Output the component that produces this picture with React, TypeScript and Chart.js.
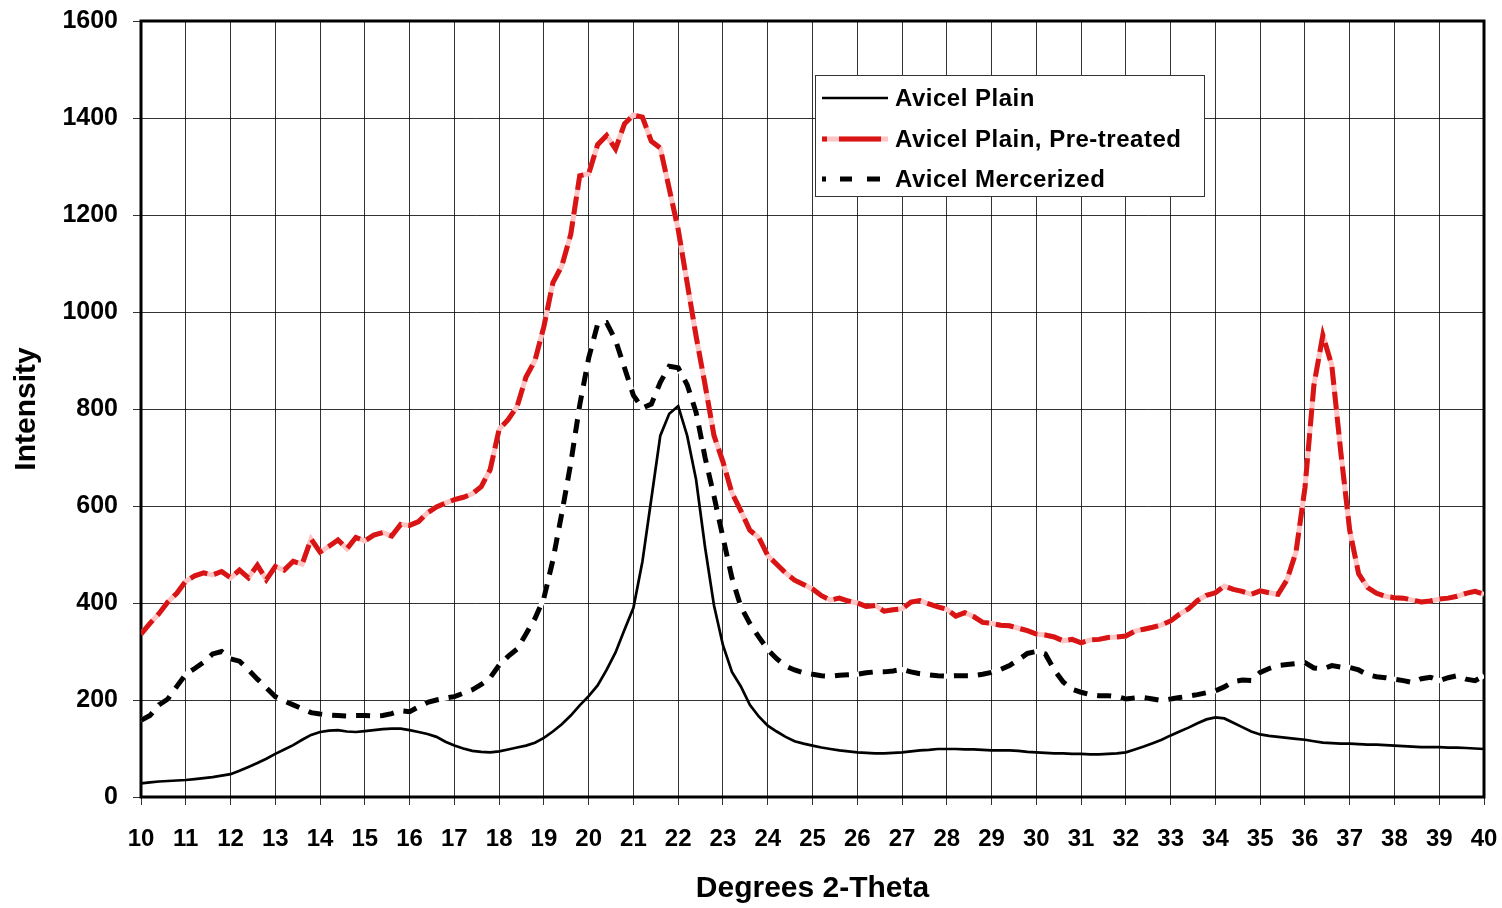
import React, { useEffect, useRef } from 'react';
import { Chart, registerables } from 'chart.js';

Chart.register(...registerables);

// Sampling grid (degrees 2-theta)
const degrees: number[] = [
  10.0, 10.2, 10.4, 10.6, 10.8, 11.0, 11.2, 11.4, 11.6, 11.8,
  12.0, 12.2, 12.4, 12.6, 12.8, 13.0, 13.2, 13.4, 13.6, 13.8,
  14.0, 14.2, 14.4, 14.6, 14.8, 15.0, 15.2, 15.4, 15.6, 15.8,
  16.0, 16.2, 16.4, 16.6, 16.8, 17.0, 17.2, 17.4, 17.6, 17.8,
  18.0, 18.2, 18.4, 18.6, 18.8, 19.0, 19.2, 19.4, 19.6, 19.8,
  20.0, 20.2, 20.4, 20.6, 20.8, 21.0, 21.2, 21.4, 21.6, 21.8,
  22.0, 22.2, 22.4, 22.6, 22.8, 23.0, 23.2, 23.4, 23.6, 23.8,
  24.0, 24.2, 24.4, 24.6, 24.8, 25.0, 25.2, 25.4, 25.6, 25.8,
  26.0, 26.2, 26.4, 26.6, 26.8, 27.0, 27.2, 27.4, 27.6, 27.8,
  28.0, 28.2, 28.4, 28.6, 28.8, 29.0, 29.2, 29.4, 29.6, 29.8,
  30.0, 30.2, 30.4, 30.6, 30.8, 31.0, 31.2, 31.4, 31.6, 31.8,
  32.0, 32.2, 32.4, 32.6, 32.8, 33.0, 33.2, 33.4, 33.6, 33.8,
  34.0, 34.2, 34.4, 34.6, 34.8, 35.0, 35.2, 35.4, 35.6, 35.8,
  36.0, 36.2, 36.4, 36.6, 36.8, 37.0, 37.2, 37.4, 37.6, 37.8,
  38.0, 38.2, 38.4, 38.6, 38.8, 39.0, 39.2, 39.4, 39.6, 39.8,
  40.0,
];

const avicelPlain: number[] = [
  28, 30, 32, 33, 34, 35, 37, 39, 41, 44,
  47, 54, 62, 70, 79, 89, 98, 107, 118, 128,
  134, 137, 138, 135, 134, 136, 138, 140, 141, 141,
  138, 134, 130, 124, 114, 106, 100, 95, 93, 92,
  94, 98, 102, 106, 112, 122, 135, 150, 168, 189,
  208, 230, 262, 298, 345, 390, 485, 615, 745, 790,
  806, 745, 654, 515, 395, 313, 258, 228, 190, 166,
  147, 135, 124, 115, 110, 106, 102, 99, 96, 94,
  92, 91, 90, 90, 91, 92, 94, 96, 97, 99,
  99, 99, 98, 98, 97, 96, 96, 96, 95, 93,
  92, 91, 90, 90, 89, 89, 88, 88, 89, 90,
  92, 98, 104, 111, 118, 127, 135, 143, 152, 160,
  164, 162, 153, 144, 135, 129, 126, 124, 122, 120,
  118, 115, 112, 111, 110, 110, 109, 108, 108, 107,
  106, 105, 104, 103, 103, 103, 102, 102, 101, 100,
  99,
];

const avicelPretreated: number[] = [
  336, 358, 378, 402, 420, 445, 456, 462, 458, 465,
  452, 468, 452, 478, 448, 475, 468, 486, 480, 532,
  505, 517, 530, 512, 535, 528, 540, 545, 538, 562,
  560, 568, 586, 598, 606, 613, 618, 625, 640, 675,
  758, 778, 805, 866, 900, 970, 1060, 1095, 1160, 1281,
  1285, 1345, 1364, 1336, 1388, 1406, 1402, 1352, 1338, 1254,
  1170, 1060, 950, 850, 745, 691, 627, 590, 550, 535,
  498, 480, 462, 447, 438, 429, 415, 406, 410, 404,
  400, 393, 395, 383, 386, 388, 402, 405, 398, 392,
  387, 373, 380, 372, 360, 358, 354, 353, 348, 343,
  336, 334, 330, 322, 325, 318, 324, 325, 329, 330,
  332, 342, 346, 350, 355, 363, 377, 388, 405, 416,
  421, 435, 428, 424, 418, 425, 421, 418, 448, 505,
  637, 849, 952, 890, 712, 550, 460, 432, 420, 414,
  411, 410, 406, 402, 404, 408, 410, 414, 420, 424,
  418,
];

const avicelMercerized: number[] = [
  158, 168, 190, 202, 228, 253, 265, 278, 295, 300,
  285, 280, 262, 243, 225, 207, 198, 190, 182, 174,
  171, 169, 168, 167, 168, 168, 167, 168, 172, 178,
  176, 186, 195, 200, 204, 207, 214, 221, 232, 246,
  272, 290, 305, 336, 368, 410, 488, 585, 688, 808,
  905, 975, 978, 942, 885, 828, 802, 810, 855, 888,
  885, 850, 793, 700, 620, 535, 452, 392, 358, 330,
  304, 285, 270, 262, 256, 253, 250, 249, 251, 252,
  253, 256, 258, 258, 260, 263, 258, 254, 252, 250,
  249, 250, 250, 250, 253, 257, 263, 271, 283, 296,
  300, 295, 262, 237, 222, 216, 211, 209, 209, 207,
  202, 204, 205, 202, 199, 202, 205, 208, 211, 215,
  219, 227, 238, 241, 240, 257, 265, 271, 273, 275,
  277, 266, 264, 271, 268, 267, 262, 252, 248, 246,
  243, 240, 236, 244, 247, 240, 246, 250, 243, 240,
  250,
];

const seriesNames: string[] = ['Avicel Plain', 'Avicel Plain, Pre-treated', 'Avicel Mercerized'];
const yTicks = { min: 0, max: 1600, step: 200 };
const xTicks = { min: 10, max: 40, step: 1 };

const FONT = "'Liberation Sans', Arial, Helvetica, sans-serif";
const RED = '#D91414';
const PINK = '#FFC4C4';

const toPoints = (ys: number[]) => ys.map((y, i) => ({ x: degrees[i], y }));

const framePlugin = {
  id: 'frame',
  beforeDatasetsDraw(chart: any) {
    const { ctx, chartArea: ca } = chart;
    ctx.save();
    ctx.strokeStyle = '#000';
    ctx.lineWidth = 3;
    ctx.strokeRect(ca.left, ca.top, ca.right - ca.left, ca.bottom - ca.top);
    ctx.restore();
  },
};

const legendPlugin = {
  id: 'boxLegend',
  afterDatasetsDraw(chart: any) {
    const { ctx, chartArea: ca } = chart;
    const left = ca.left + 674;
    const top = ca.top + 54;
    const w = 389;
    const h = 121;
    ctx.save();
    ctx.fillStyle = '#fff';
    ctx.fillRect(left, top, w, h);
    ctx.strokeStyle = '#333';
    ctx.lineWidth = 1;
    ctx.strokeRect(left + 0.5, top + 0.5, w, h);

    const rows = [top + 23, top + 64, top + 104];
    const sx0 = left + 7;
    const sx1 = left + 73;
    ctx.lineCap = 'butt';

    ctx.beginPath();
    ctx.strokeStyle = '#000';
    ctx.lineWidth = 2.5;
    ctx.moveTo(sx0, rows[0]);
    ctx.lineTo(sx1, rows[0]);
    ctx.stroke();

    ctx.beginPath();
    ctx.strokeStyle = PINK;
    ctx.lineWidth = 5;
    ctx.moveTo(sx0, rows[1]);
    ctx.lineTo(sx1, rows[1]);
    ctx.stroke();
    ctx.beginPath();
    ctx.setLineDash([5, 12, 42, 100]);
    ctx.strokeStyle = RED;
    ctx.moveTo(sx0, rows[1]);
    ctx.lineTo(sx1, rows[1]);
    ctx.stroke();

    ctx.beginPath();
    ctx.setLineDash([4, 14, 12, 15, 13, 100]);
    ctx.strokeStyle = '#000';
    ctx.lineWidth = 5;
    ctx.moveTo(sx0, rows[2]);
    ctx.lineTo(sx1, rows[2]);
    ctx.stroke();
    ctx.setLineDash([]);

    ctx.fillStyle = '#000';
    ctx.font = `bold 24px ${FONT}`;
    (ctx as any).letterSpacing = '0.5px';
    ctx.textAlign = 'left';
    ctx.textBaseline = 'middle';
    seriesNames.forEach((name, i) => ctx.fillText(name, left + 80, rows[i] + 1));
    ctx.restore();
  },
};

export default function App() {
  const ref = useRef<HTMLCanvasElement>(null);

  useEffect(() => {
    if (!ref.current) return;
    Chart.defaults.font.family = FONT;
    const chart = new Chart(ref.current, {
      type: 'line',
      data: {
        datasets: [
          {
            label: seriesNames[0],
            data: toPoints(avicelPlain),
            borderColor: '#000',
            borderWidth: 2.7,
            pointRadius: 0,
            tension: 0,
            order: 0,
          },
          {
            label: seriesNames[1] + ' base',
            data: toPoints(avicelPretreated),
            borderColor: PINK,
            borderWidth: 5,
            pointRadius: 0,
            tension: 0,
            order: 4,
          },
          {
            label: seriesNames[1],
            data: toPoints(avicelPretreated),
            borderColor: RED,
            borderWidth: 5,
            borderDash: [18, 7],
            pointRadius: 0,
            tension: 0,
            order: 3,
          },
          {
            label: seriesNames[2] + ' base',
            data: toPoints(avicelMercerized),
            borderColor: '#fff',
            borderWidth: 5,
            pointRadius: 0,
            tension: 0,
            order: 2,
          },
          {
            label: seriesNames[2],
            data: toPoints(avicelMercerized),
            borderColor: '#000',
            borderWidth: 5,
            borderDash: [14, 10],
            pointRadius: 0,
            tension: 0,
            order: 1,
          },
        ],
      },
      options: {
        animation: false,
        responsive: true,
        maintainAspectRatio: false,
        layout: { padding: { top: 21, right: 18, left: 0, bottom: 0 } },
        plugins: {
          legend: { display: false },
          tooltip: { enabled: false },
        },
        scales: {
          x: {
            type: 'linear',
            min: xTicks.min,
            max: xTicks.max,
            ticks: {
              stepSize: xTicks.step,
              autoSkip: false,
              maxRotation: 0,
              color: '#000',
              padding: 20,
              font: { size: 24, weight: 'bold' },
            },
            grid: { color: 'rgba(0,0,0,0.8)', lineWidth: 1, tickLength: 8, drawTicks: true },
            border: { display: false },
            title: {
              display: true,
              text: 'Degrees 2-Theta',
              color: '#000',
              font: { size: 30, weight: 'bold' },
              padding: { top: 0, bottom: 1 },
            },
            afterFit(scale: any) {
              scale.height = 111;
              scale.paddingLeft = 0;
              scale.paddingRight = 0;
            },
          },
          y: {
            min: yTicks.min,
            max: yTicks.max,
            ticks: {
              stepSize: yTicks.step,
              color: '#000',
              padding: 15,
              font: { size: 25, weight: 'bold' },
              callback: (v: any) => String(v),
            },
            grid: { color: 'rgba(0,0,0,0.8)', lineWidth: 1, tickLength: 8, drawTicks: true },
            border: { display: false },
            title: {
              display: true,
              text: 'Intensity',
              color: '#000',
              font: { size: 30, weight: 'bold' },
              padding: { top: 9, bottom: 0 },
            },
            afterFit(scale: any) {
              scale.width = 141;
              scale.paddingTop = 0;
              scale.paddingBottom = 0;
            },
          },
        },
      } as any,
      plugins: [framePlugin, legendPlugin],
    });
    return () => chart.destroy();
  }, []);

  return (
    <div style={{ position: 'fixed', left: 0, top: 0, width: 1502, height: 908, background: '#fff' }}>
      <canvas ref={ref} />
    </div>
  );
}
